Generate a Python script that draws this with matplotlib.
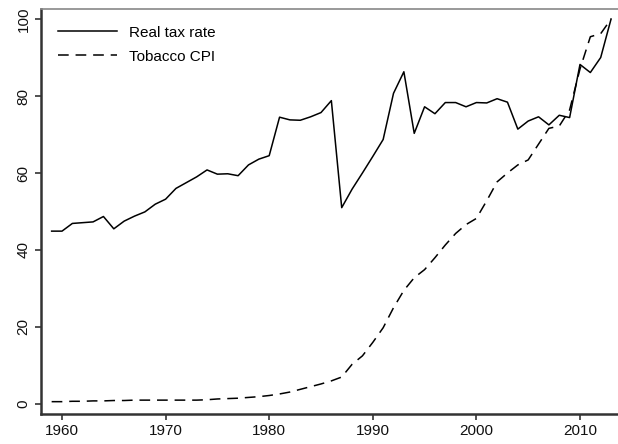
import matplotlib
matplotlib.use('Agg')
import matplotlib.pyplot as plt

plt.rcParams['font.family'] = ['Liberation Sans', 'DejaVu Sans']

# years 1959-2013
years = list(range(1959, 2014))

# real tax rate (index, 2013 = 100)
tax_rate = [44.9, 44.9, 46.9, 47.1, 47.3, 48.7, 45.5, 47.5, 48.8, 49.9,
            51.9, 53.2, 56.0, 57.5, 59.0, 60.8, 59.7, 59.8, 59.3, 62.1,
            63.6, 64.5, 74.5, 73.8, 73.7, 74.6, 75.7, 78.8, 51.0, 55.8,
            60.0, 64.3, 68.7, 80.7, 86.3, 70.3, 77.2, 75.4, 78.3, 78.3,
            77.2, 78.3, 78.2, 79.3, 78.4, 71.4, 73.5, 74.6, 72.5, 75.0,
            74.4, 88.2, 86.1, 90.0, 100.0]

# tobacco CPI (2013 = 100)
tobacco_cpi = [0.6, 0.6, 0.7, 0.7, 0.8, 0.8, 0.9, 0.9, 1.0, 1.0,
               1.0, 1.0, 1.0, 1.0, 1.0, 1.1, 1.3, 1.4, 1.5, 1.7,
               1.9, 2.2, 2.6, 3.1, 3.8, 4.5, 5.2, 6.0, 7.0, 10.3,
               12.5, 16.0, 19.8, 25.0, 29.5, 32.8, 34.9, 38.0, 41.3, 44.3,
               46.6, 48.2, 52.8, 57.7, 60.0, 62.1, 63.4, 67.5, 71.6, 72.2,
               76.4, 87.0, 95.4, 96.2, 100.0]

fig = plt.figure(figsize=(6.18, 4.44), dpi=100)
ax = fig.add_axes([0.0663, 0.0676, 0.9337, 0.9121])

ax.plot(years, tax_rate, color='black', linewidth=1.1, label='Real tax rate')
ax.plot(years, tobacco_cpi, color='black', linewidth=1.1, dashes=(7, 4.5),
        label='Tobacco CPI')

ax.set_xlim(1957.97, 2013.67)
ax.set_ylim(-2.6, 102.6)
ax.set_xticks([1960, 1970, 1980, 1990, 2000, 2010])
ax.set_yticks([0, 20, 40, 60, 80, 100])

for lab in ax.get_yticklabels():
    lab.set_rotation(90)
    lab.set_va('center')

ax.tick_params(axis='both', labelsize=11, length=4, width=1.2,
               color='#333333', labelcolor='#111111')

ax.spines['left'].set_color('#333333')
ax.spines['left'].set_linewidth(1.8)
ax.spines['bottom'].set_color('#333333')
ax.spines['bottom'].set_linewidth(1.8)
ax.spines['top'].set_color('#888888')
ax.spines['top'].set_linewidth(1.2)
ax.spines['right'].set_visible(False)

ax.legend(loc='upper left', frameon=False, fontsize=11, handlelength=3.9,
          handletextpad=0.75, borderaxespad=0.7, labelspacing=0.65)

fig.savefig('out.png', dpi=100)
